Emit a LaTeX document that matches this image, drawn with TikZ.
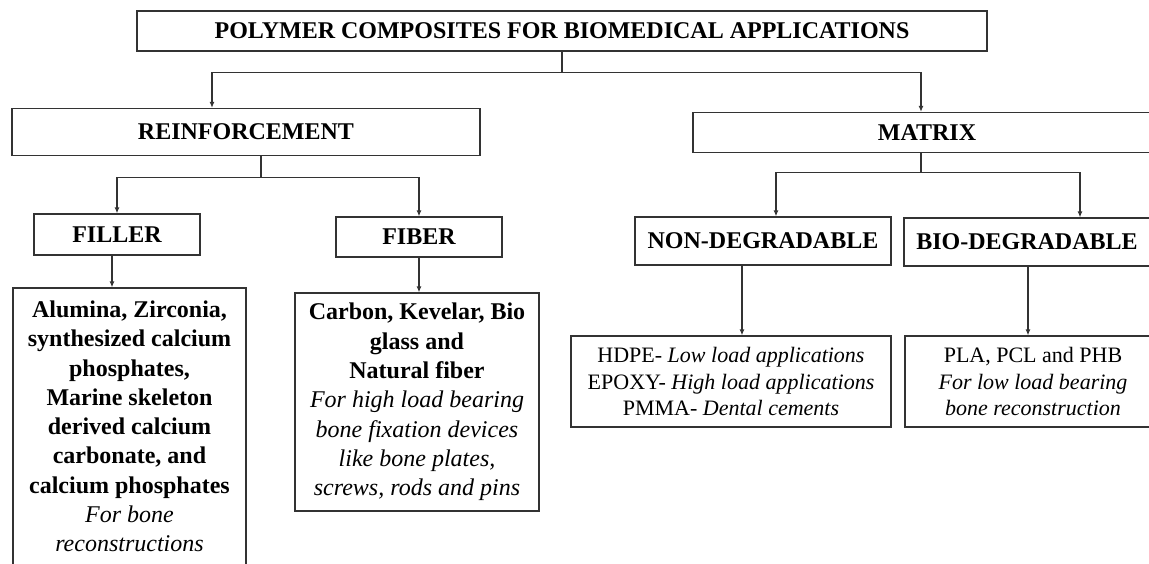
\documentclass[tikz,border=0pt]{standalone}
\usepackage{fontspec}
\setmainfont{Liberation Serif}
\usetikzlibrary{arrows.meta}
\newcommand{\myit}[1]{{\mdseries\itshape #1}}
\begin{document}
\begin{tikzpicture}[x=1pt,y=-1pt,
  hbox/.style={draw=black!80, line width=1.2pt, inner sep=0pt, align=center,
    font=\fontsize{24}{29.3}\selectfont\bfseries},
  lbl/.style={hbox, text depth=0pt},
  dbox/.style={draw=black!80, line width=1.2pt, inner sep=0pt, align=center,
    font=\fontsize{22}{26.5}\selectfont},
  conn/.style={draw=black!80, line width=1.2pt},
  arr/.style={conn, -{Latex[length=6pt,width=5pt]}}]
\useasboundingbox (0,0) rectangle (1149,563);
\clip (0,0) rectangle (1149,563);
% boxes
\node[lbl, minimum width=850, minimum height=40] (title) at (562,31) {POLYMER COMPOSITES FOR BIOMEDICAL APPLICATIONS};
\node[lbl, minimum width=468, minimum height=47] (reinf) at (246,132) {REINFORCEMENT};
\node[lbl, minimum width=468, minimum height=40] (matrix) at (927,132.5) {MATRIX};
\node[lbl, minimum width=166, minimum height=41] (filler) at (117,234.5) {FILLER};
\node[lbl, minimum width=166, minimum height=40] (fiber) at (419,237) {FIBER};
\node[lbl, minimum width=256, minimum height=48] (nondeg) at (763,241) {NON-DEGRADABLE};
\node[lbl, minimum width=246, minimum height=48] (biodeg) at (1027,242) {BIO-DEGRADABLE};
\node[hbox, minimum width=233, minimum height=277] (filldesc) at (129.5,426.5)
  {Alumina, Zirconia,\\synthesized calcium\\phosphates,\\Marine skeleton\\derived calcium\\carbonate, and\\calcium phosphates\\\myit{For bone}\\\myit{reconstructions}};
\node[hbox, minimum width=244, minimum height=218] (fibdesc) at (417,402)
  {Carbon, Kevelar, Bio\\glass and\\Natural fiber\\\myit{For high load bearing}\\\myit{bone fixation devices}\\\myit{like bone plates,}\\\myit{screws, rods and pins}};
\node[dbox, minimum width=320, minimum height=91] (hdpe) at (731,381.5)
  {HDPE- \myit{Low load applications}\\EPOXY- \myit{High load applications}\\PMMA- \myit{Dental cements}};
\node[dbox, minimum width=256, minimum height=91] (pla) at (1033,381.5)
  {PLA, PCL and PHB\\\myit{For low load bearing}\\\myit{bone reconstruction}};
% connectors
\coordinate (j1) at ([yshift=-21pt]title.south);
\draw[conn] (title.south) -- (j1);
\draw[arr] (j1) -| ([xshift=-34pt]reinf.north);
\draw[arr] (j1) -| ([xshift=-6pt]matrix.north);
\coordinate (j2) at ([xshift=15pt,yshift=-21pt]reinf.south);
\draw[conn] ([xshift=15pt]reinf.south) -- (j2);
\draw[arr] (j2) -| (filler.north);
\draw[arr] (j2) -| (fiber.north);
\coordinate (j3) at ([xshift=-6pt,yshift=-19.5pt]matrix.south);
\draw[conn] ([xshift=-6pt]matrix.south) -- (j3);
\draw[arr] (j3) -| ([xshift=13pt]nondeg.north);
\draw[arr] (j3) -| ([xshift=53pt]biodeg.north);
\draw[arr] ([xshift=-5pt]filler.south) -- ([xshift=-17.5pt]filldesc.north);
\draw[arr] (fiber.south) -- ([xshift=2pt]fibdesc.north);
\draw[arr] ([xshift=-21pt]nondeg.south) -- ([xshift=11pt]hdpe.north);
\draw[arr] ([xshift=1pt]biodeg.south) -- ([xshift=-5pt]pla.north);
\end{tikzpicture}
\end{document}
